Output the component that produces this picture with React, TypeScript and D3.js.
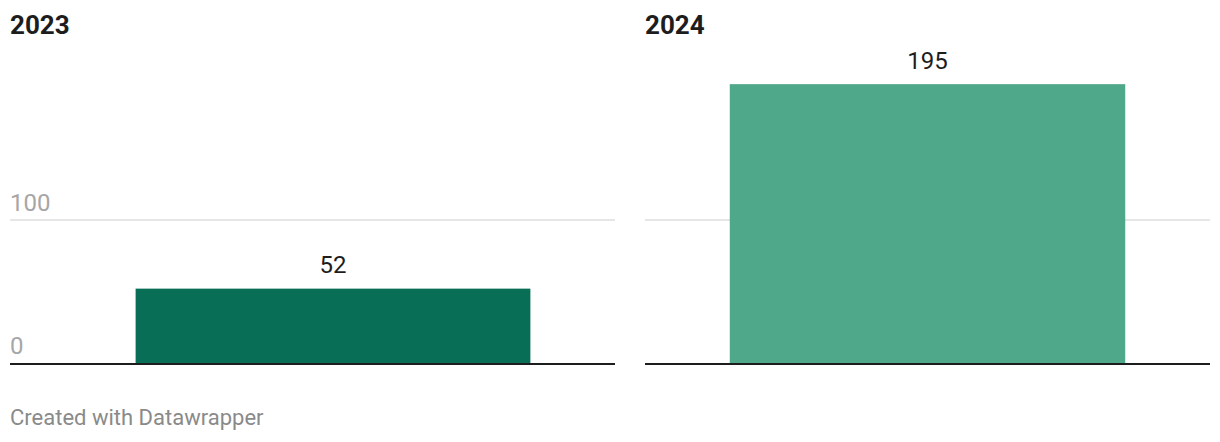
import React from "react";
import * as d3 from "d3";

const panels = ["2023", "2024"];
const values = [52, 195];
const colors = ["#086e55", "#50a88b"];
const ticks = [0, 100];
const footer = "Created with Datawrapper";

const W = 1220;
const H = 442;
const FONT = "Roboto, 'Noto Sans', sans-serif";

export default function App() {
  const y = d3.scaleLinear().domain([0, 100]).range([363, 220]);
  const panelBounds = [
    { x0: 10, x1: 615, p0: 51 },
    { x0: 645, x1: 1210, p0: 645 },
  ];
  return (
    <div style={{ position: "absolute", left: 0, top: 0 }}>
      <svg width={W} height={H} style={{ display: "block", background: "#fff" }}>
        {panels.map((name, i) => {
          const b = panelBounds[i];
          const x = d3.scaleBand<string>().domain([name]).range([b.p0, b.x1]).padding(0.1765);
          const bx = x(name) as number;
          const bw = x.bandwidth();
          return (
            <g key={name}>
              <text x={b.x0} y={34} fontFamily={FONT} fontWeight={700} fontSize={26} fill="#1d1d1d">
                {name}
              </text>
              {ticks
                .filter((t) => t !== 0)
                .map((t) => (
                  <line key={t} x1={b.x0} x2={b.x1} y1={y(t)} y2={y(t)} stroke="#e6e6e6" strokeWidth={2} />
                ))}
              {i === 0 &&
                ticks.map((t) => (
                  <text key={t} x={b.x0} y={y(t) - 9} fontFamily={FONT} fontSize={24} fill="#a6a6a6">
                    {t}
                  </text>
                ))}
              <rect x={bx} width={bw} y={y(values[i])} height={y(0) - y(values[i])} fill={colors[i]} />
              <text
                x={bx + bw / 2}
                y={y(values[i]) - 15.5}
                textAnchor="middle"
                fontFamily={FONT}
                fontSize={24}
                fill="#1d1d1d"
              >
                {values[i]}
              </text>
              <line x1={b.x0} x2={b.x1} y1={y(0) + 1} y2={y(0) + 1} stroke="#1d1d1d" strokeWidth={2} />
            </g>
          );
        })}
        <text x={10} y={425} fontFamily={FONT} fontSize={22} fill="#8a8a8a">
          {footer}
        </text>
      </svg>
    </div>
  );
}
